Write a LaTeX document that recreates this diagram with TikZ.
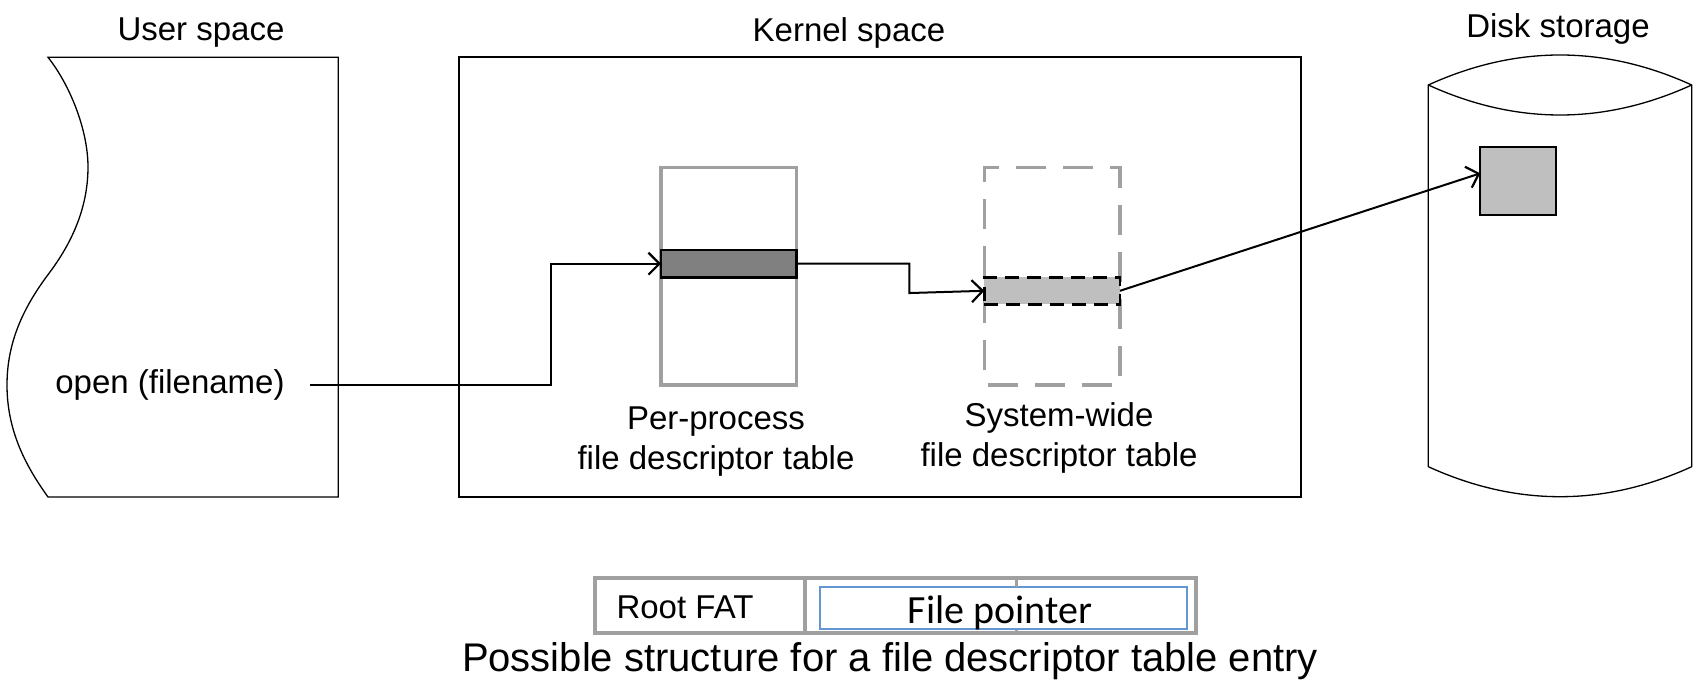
\documentclass[tikz,border=0pt]{standalone}
\usepackage{fontspec}
\setmainfont{Liberation Sans}
\newfontfamily\calibrifont{Carlito}
\usetikzlibrary{arrows.meta,calc}
\definecolor{tgray}{RGB}{160,160,160}
\definecolor{darkfill}{RGB}{128,128,128}
\definecolor{lightfill}{RGB}{191,191,191}
\definecolor{cellblue}{RGB}{100,150,210}
\begin{document}
\begin{tikzpicture}[x=1pt,y=-1pt,
  lbl/.style={font=\fontsize{33}{38}\selectfont, inner sep=0pt},
  thinline/.style={draw=black, line width=1.3pt},
  box/.style={rectangle, inner sep=0pt, outer sep=0pt},
  graytab/.style={box, draw=tgray, line width=3.5pt},
  conn/.style={line width=2pt, -{Straight Barb[length=11pt,width=22pt,line width=2.2pt]}},
]
\useasboundingbox (0,0) rectangle (1700,700);

% titles
\node[lbl] (tuser) at (201,32.5) {User space};
\node[lbl] (tkern) at (849,32.5) {Kernel space};
\node[lbl] (tdisk) at (1558,29) {Disk storage};

% user space shape
\draw[thinline] (48,57.3) .. controls (70,85) and (88,130) .. (88,167)
  .. controls (88,210) and (70,245) .. (50,272)
  .. controls (25,305) and (7,340) .. (7,385)
  .. controls (7,430) and (25,465) .. (48,497)
  -- (338.3,497) -- (338.3,57.3) -- cycle;
\node[lbl, inner xsep=25pt, anchor=center] (open) at (170,385) {open (filename)};

% kernel box
\node[box, draw=black, line width=2pt, minimum width=842.4pt, minimum height=439.1pt] (kernel) at (879.8,277.05) {};

% per-process table
\node[graytab, minimum width=135.7pt, minimum height=217.7pt] (pp) at (728.85,276.15) {};
\node[box, draw=black, fill=darkfill, line width=2.5pt, minimum width=135.7pt, minimum height=27.3pt] (ppe) at (728.85,263.65) {};
\node[lbl] (pplab1) at (716,421.5) {Per-process};
\node[lbl] (pplab2) at (716,460.5) {file descriptor table};

% system-wide table
\node[graytab, dash pattern=on 30pt off 17pt, dash phase=-4pt, minimum width=135.7pt, minimum height=217.7pt] (sw) at (1052.15,276.15) {};
\node[box, draw=black, fill=lightfill, line width=2.5pt, dash pattern=on 14pt off 8pt, minimum width=135.7pt, minimum height=27pt] (swe) at (1052.15,290.8) {};
\node[lbl] (swlab1) at (1059,418) {System-wide};
\node[lbl] (swlab2) at (1059,458) {file descriptor table};

% disk cylinder
\draw[thinline] (1428.3,85) .. controls (1516,45) and (1604,45) .. (1691.7,85)
  -- (1691.7,466.7) .. controls (1604,506.7) and (1516,506.7) .. (1428.3,466.7) -- cycle;
\draw[thinline] (1428.3,85) .. controls (1516,125) and (1604,125) .. (1691.7,85);
\node[box, draw=black, fill=lightfill, line width=2pt, minimum width=75.7pt, minimum height=68.3pt] (sq) at (1518.15,180.85) {};

% connectors
\draw[conn] (open.east) -- ++(240.7,0) |- (ppe.west);
\draw[conn] (ppe.east) -- ++(112.6,0) -- ++(0,29.4) -- (swe.west);
\draw[conn] (swe.east) -- ($(sq.north west)!0.39!(sq.south west)$);

% bottom entry structure
\node[graytab, line width=3.5pt, minimum width=210pt, minimum height=55pt] (c1) at (700,605.5) {};
\node[graytab, line width=3.5pt, minimum width=211.7pt, minimum height=55pt] (c2) at (910.85,605.5) {};
\node[graytab, line width=3.5pt, minimum width=179.3pt, minimum height=55pt] (c3) at (1106.35,605.5) {};
\node[lbl] (root) at (685,607) {Root FAT};
\node[box, draw=cellblue, fill=white, line width=2pt, minimum width=367pt, minimum height=42.5pt] (fp) at (1003.5,607.75) {};
\node[inner sep=0pt, font=\calibrifont\fontsize{40}{44}\selectfont] (fptext) at (1000,613) {File pointer};
\draw[tgray, line width=3.5pt] (c2.north east) -- (fp.north -| c2.north east);
\node[lbl, font=\fontsize{40}{46}\selectfont] (caption) at (890,661) {Possible structure for a file descriptor table entry};
\end{tikzpicture}
\end{document}
